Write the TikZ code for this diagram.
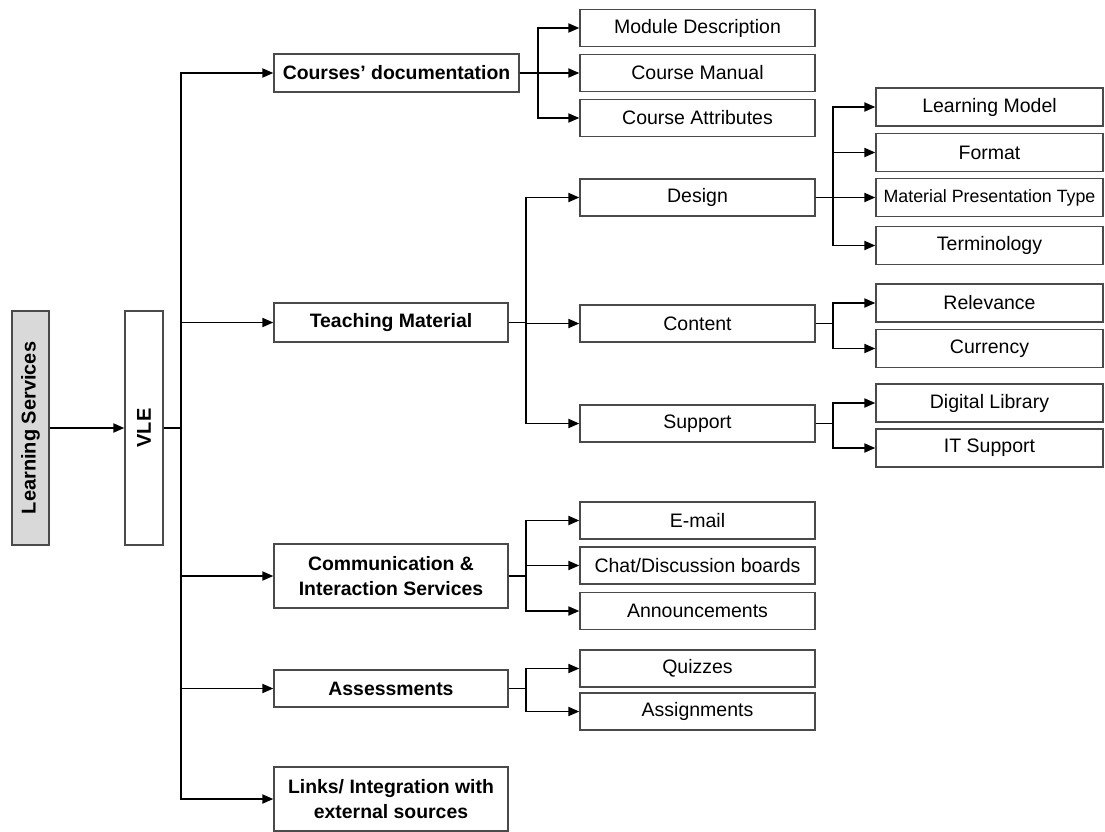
\documentclass[tikz,border=0pt]{standalone}
\usepackage{fontspec}
\setmainfont{Liberation Sans}
\usetikzlibrary{arrows.meta}
\definecolor{edgegray}{HTML}{4A4A4A}
\definecolor{fillgray}{HTML}{D9D9D9}
\begin{document}
\begin{tikzpicture}[x=1pt,y=-1pt,
  box/.style={draw=edgegray,line width=1.3pt,rectangle,inner sep=1pt,align=center,
    font=\fontsize{19.5}{25}\selectfont},
  lvlone/.style={box,minimum width=234,minimum height=38,font=\fontsize{19.4}{25}\selectfont\bfseries},
  lvltwo/.style={box,minimum width=235,minimum height=37},
  lvlthree/.style={box,minimum width=227,minimum height=38},
  conn/.style={line width=1.9pt,-{Triangle[length=11pt,width=9pt]}}]
\useasboundingbox (0,0) rectangle (1105,832);

% root and VLE columns
\node[box,fill=fillgray,minimum width=37,minimum height=234] (ls) at (30.5,428)
  {\rotatebox{90}{\fontsize{20}{24}\selectfont\bfseries Learning Services}};
\node[box,minimum width=38,minimum height=234] (vle) at (144,428)
  {\rotatebox{90}{\fontsize{20}{24}\selectfont\bfseries VLE}};

% first level
\node[lvlone,minimum width=245] (cd) at (396.5,73) {Courses’ documentation};
\node[lvlone,minimum height=39] (tm) at (391,322.5) {Teaching Material};
\node[lvlone,minimum height=64] (cis) at (391,576) {Communication \&\\Interaction Services};
\node[lvlone,minimum height=37] (as) at (391,688.5) {Assessments};
\node[lvlone,minimum height=64] (li) at (391,799) {Links/ Integration with\\external sources};

% second level
\node[lvltwo] (md) at (697.5,28) {Module Description};
\node[lvltwo] (cm) at (697.5,73) {Course Manual};
\node[lvltwo] (ca) at (697.5,118) {Course Attributes};
\node[lvltwo] (de) at (697.5,197.5) {Design};
\node[lvltwo] (co) at (697.5,323.5) {Content};
\node[lvltwo] (su) at (697.5,423.5) {Support};
\node[lvltwo] (em) at (697.5,520.5) {E-mail};
\node[lvltwo] (ch) at (697.5,565.5) {Chat/Discussion boards};
\node[lvltwo] (an) at (697.5,611) {Announcements};
\node[lvltwo] (qu) at (697.5,668.5) {Quizzes};
\node[lvltwo] (asg) at (697.5,711.5) {Assignments};

% third level
\node[lvlthree] (lm) at (989.5,107) {Learning Model};
\node[lvlthree] (fo) at (989.5,152.5) {Format};
\node[lvlthree,font=\fontsize{17.8}{22}\selectfont] (mpt) at (989.5,197.5) {Material Presentation Type};
\node[lvlthree] (te) at (989.5,245.5) {Terminology};
\node[lvlthree] (re) at (989.5,303) {Relevance};
\node[lvlthree] (cu) at (989.5,348.5) {Currency};
\node[lvlthree] (dl) at (989.5,403) {Digital Library};
\node[lvlthree] (it) at (989.5,448) {IT Support};

% connectors
\draw[conn] (ls) -- (vle);
\foreach \c in {cd,tm,cis,as,li}
  \draw[conn] (vle.east) -- ++(17,0) |- (\c.west);
\foreach \c in {md,cm,ca}
  \draw[conn] (cd.east) -- ++(18,0) |- (\c.west);
\foreach \c in {de,co,su}
  \draw[conn] (tm.east) -- ++(17,0) |- (\c.west);
\foreach \c in {em,ch,an}
  \draw[conn] (cis.east) -- ++(17,0) |- (\c.west);
\foreach \c in {qu,asg}
  \draw[conn] (as.east) -- ++(17,0) |- (\c.west);
\foreach \c in {lm,fo,mpt,te}
  \draw[conn] (de.east) -- ++(17,0) |- (\c.west);
\foreach \c in {re,cu}
  \draw[conn] (co.east) -- ++(17,0) |- (\c.west);
\foreach \c in {dl,it}
  \draw[conn] (su.east) -- ++(17,0) |- (\c.west);
\end{tikzpicture}
\end{document}
